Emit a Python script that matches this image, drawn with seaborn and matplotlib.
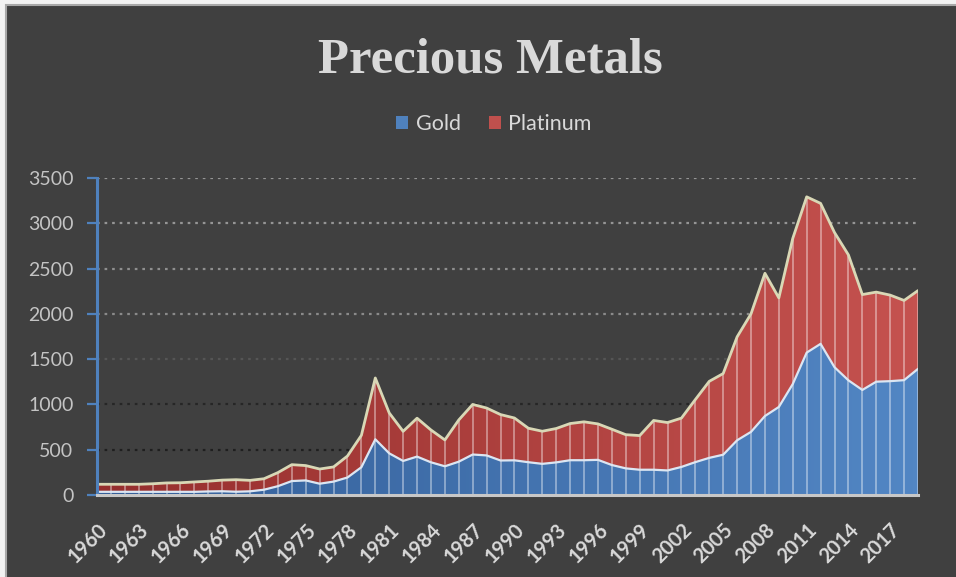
import numpy as np
import pandas as pd
import matplotlib
matplotlib.use("Agg")
import matplotlib.pyplot as plt
import seaborn as sns
from matplotlib.colors import LinearSegmentedColormap
from matplotlib.patches import Patch, Rectangle

# Annual average prices, USD per troy ounce
years = list(range(1960, 2020))
gold = [35.27, 35.25, 35.23, 35.09, 35.10, 35.12, 35.13, 34.95, 39.31, 41.28,
        36.02, 40.62, 58.42, 97.39, 154.0, 160.9, 124.7, 147.8, 193.4, 306.7,
        615.0, 460.0, 376.0, 424.0, 361.0, 317.0, 368.0, 447.0, 437.0, 381.0,
        383.0, 362.0, 344.0, 360.0, 384.0, 384.0, 388.0, 331.0, 294.0, 279.0,
        279.0, 271.0, 310.0, 363.0, 410.0, 445.0, 604.0, 697.0, 872.0, 972.0,
        1225.0, 1572.0, 1669.0, 1411.0, 1266.0, 1160.0, 1251.0, 1257.0, 1268.0, 1393.0]
platinum = [83.0, 83.0, 83.0, 83.0, 89.0, 98.0, 100.0, 109.0, 113.0, 123.0,
            133.0, 121.0, 121.0, 150.0, 181.0, 164.0, 162.0, 162.0, 237.0, 352.0,
            677.0, 446.0, 327.0, 424.0, 357.0, 291.0, 461.0, 553.0, 523.0, 507.0,
            467.0, 375.0, 360.0, 374.0, 405.0, 424.0, 397.0, 395.0, 372.0, 377.0,
            544.0, 529.0, 539.0, 691.0, 845.0, 896.0, 1142.0, 1303.0, 1576.0, 1204.0,
            1608.0, 1720.0, 1551.0, 1487.0, 1385.0, 1053.0, 989.0, 950.0, 880.0, 864.0]
series_names = ["Gold", "Platinum"]
y_ticks = [0, 500, 1000, 1500, 2000, 2500, 3000, 3500]
x_tick_years = list(range(1960, 2019, 3))

df = pd.DataFrame({"year": years, "Gold": gold, "Platinum": platinum})
df["total"] = df["Gold"] + df["Platinum"]

BG = "#404040"
TXT = "#d9d9d9"

sns.set_theme(style="dark", rc={"axes.facecolor": BG, "figure.facecolor": "#f2f2f2",
                                "ytick.left": True})
plt.rcParams["font.family"] = ["Lato", "DejaVu Sans"]

fig = plt.figure(figsize=(9.56, 5.77), dpi=100)
# dark chart panel with a thin light frame
fig.patches.append(Rectangle((6 / 956, -0.01), 1.0, 1 - 5 / 577 + 0.01,
                             transform=fig.transFigure, facecolor=BG,
                             edgecolor="#a8a8a8", linewidth=1.5, zorder=-10))

ax = fig.add_axes([97 / 956, 1 - 495 / 577, (918 - 97) / 956, (495 - 178) / 577])
ax.set_facecolor(BG)
ax.set_zorder(1)

# dotted horizontal gridlines, darker near the base
grid_cols = {500: "#1f1f1f", 1000: "#262626", 1500: "#555555",
             2000: "#8a8a8a", 2500: "#8f8f8f", 3000: "#959595", 3500: "#959595"}
for lvl, c in grid_cols.items():
    ax.axhline(lvl, color=c, linestyle=(0, (1.2, 2.2)), linewidth=1.6, zorder=1)

x0, x1 = years[0], years[-1]


def gradient_area(lower, upper, c_left, c_right, z):
    poly = ax.fill_between(df["year"], lower, upper, facecolor="none",
                           edgecolor="none", zorder=z)
    cmap = LinearSegmentedColormap.from_list("g", [c_left, c_right])
    grad = np.linspace(0, 1, 256).reshape(1, -1)
    im = ax.imshow(grad, extent=[x0, x1, 0, 3600], aspect="auto", cmap=cmap,
                   origin="lower", zorder=z, interpolation="bilinear")
    im.set_clip_path(poly.get_paths()[0], transform=ax.transData)


gradient_area(0, df["Gold"], "#335e98", "#5286c4", 2)
gradient_area(df["Gold"], df["total"], "#962f2d", "#c5524f", 2)

# year separators across the stacked areas
ax.vlines(df["year"], 0, df["total"], colors="white", alpha=0.42, linewidth=1.3, zorder=3)

# boundary lines of the stacked series
sns.lineplot(data=df, x="year", y="Gold", ax=ax, color="#dce6f2",
             linewidth=1.6, zorder=4, legend=False)
sns.lineplot(data=df, x="year", y="total", ax=ax, color="#d9d8b6",
             linewidth=2.0, zorder=4, legend=False)

ax.set_xlim(x0, x1)
ax.set_ylim(0, 3500)
ax.set_xlabel("")
ax.set_ylabel("")

ax.set_yticks(y_ticks)
ax.set_yticklabels([str(v) for v in y_ticks], color="#c4c4c4", fontsize=14)
ax.set_xticks(x_tick_years)
ax.set_xticklabels([str(y) for y in x_tick_years], rotation=45, ha="right",
                   rotation_mode="anchor", color=TXT, fontsize=14.5,
                   fontweight="bold")
ax.tick_params(axis="y", left=True, direction="out", length=7, width=1.6,
               color="#4f81bd", pad=10)
ax.tick_params(axis="x", bottom=False, length=0, pad=18)

for s in ["top", "right"]:
    ax.spines[s].set_visible(False)
ax.spines["left"].set_color("#4f81bd")
ax.spines["left"].set_linewidth(2.2)
ax.spines["left"].set_zorder(6)
ax.spines["bottom"].set_color("#c8c8c8")
ax.spines["bottom"].set_linewidth(2.2)
ax.spines["bottom"].set_zorder(6)

fig.text(0.5125, 1 - 72 / 577, "Precious Metals", ha="center", va="baseline",
         fontsize=36.5, fontweight="bold", color=TXT,
         family=["Liberation Serif", "DejaVu Serif"])

handles = [Patch(facecolor="#4f81bd", edgecolor="none"),
           Patch(facecolor="#c0504d", edgecolor="none")]
fig.legend(handles, series_names, loc="center", bbox_to_anchor=(494 / 956, 1 - 124 / 577),
           ncol=2, frameon=False, fontsize=15.5, labelcolor=TXT,
           handlelength=0.55, handleheight=0.6, handletextpad=0.35, columnspacing=1.3)

fig.savefig("out.png", dpi=100, facecolor=fig.get_facecolor())
